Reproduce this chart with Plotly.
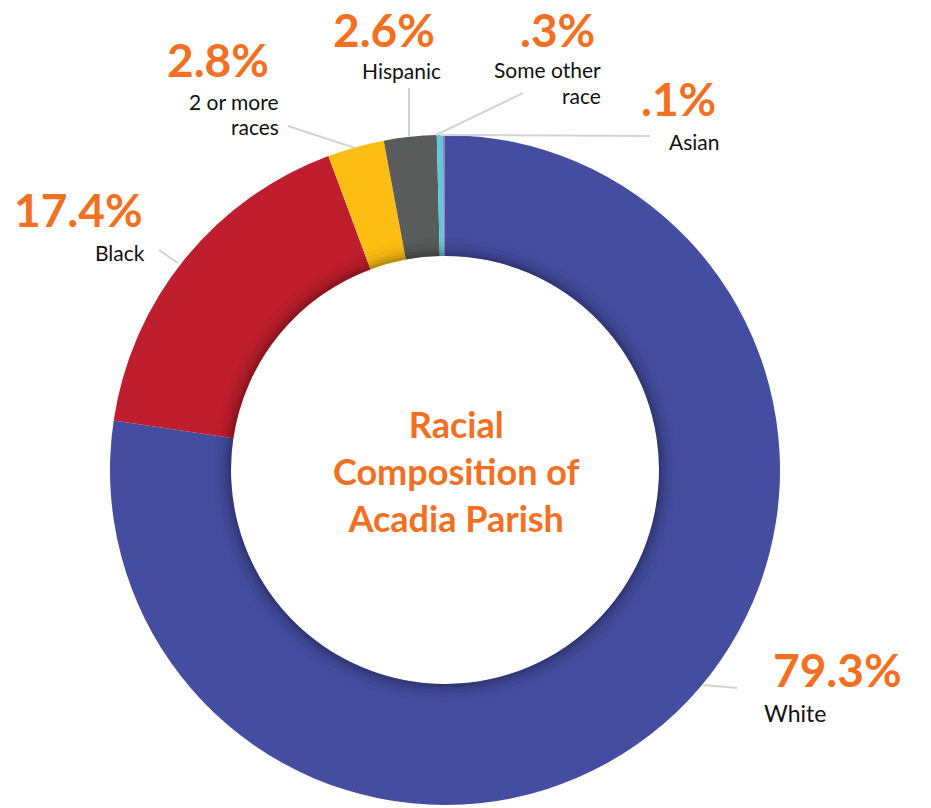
import plotly.graph_objects as go

# Racial composition of Acadia Parish (percent of population)
categories = ["White", "Black", "2 or more races", "Hispanic", "Some other race", "Asian"]
values = [79.3, 17.4, 2.8, 2.6, 0.3, 0.1]
value_labels = ["79.3%", "17.4%", "2.8%", "2.6%", ".3%", ".1%"]
name_labels = [["White"], ["Black"], ["2 or more", "races"], ["Hispanic"],
               ["Some other", "race"], ["Asian"]]
colors = ["#454DA0", "#BE1E2D", "#FDBE13", "#5A5C5B", "#5EC8DD", "#9A7EBA"]

W, H = 931, 808
CX, CY, R_OUT, R_IN = 445, 470, 335, 214
ORANGE = "#F36F21"
FONT = "Lato"


def px(x):
    return x / W


def py(y):
    return 1 - y / H


def ring_domain(r):
    return dict(x=[px(CX - r), px(CX + r)], y=[py(CY + r), py(CY - r)])


fig = go.Figure()

fig.add_trace(go.Pie(
    labels=categories,
    values=values,
    marker=dict(colors=colors, line=dict(width=0)),
    hole=R_IN / R_OUT,
    sort=False,
    direction="clockwise",
    rotation=0,
    textinfo="none",
    hoverinfo="skip",
    showlegend=False,
    domain=ring_domain(R_OUT),
))

# soft shadow along the inner edge of the ring
for d, a in [(3, 0.10), (6, 0.07), (9, 0.05), (13, 0.035), (18, 0.02)]:
    r = R_IN + d
    fig.add_trace(go.Pie(
        values=[1],
        marker=dict(colors=[f"rgba(0,0,0,{a})"], line=dict(width=0)),
        hole=R_IN / r,
        sort=False,
        textinfo="none",
        hoverinfo="skip",
        showlegend=False,
        domain=ring_domain(r),
    ))

# leader lines from slices to labels
leaders = [
    ((703, 685), (737, 688)),   # White
    ((178, 263), (159, 250)),   # Black
    ((355, 148), (288, 126)),   # 2 or more races
    ((409, 136), (409, 88)),    # Hispanic
    ((436, 135), (523, 93)),    # Some other race
    ((441, 135), (650, 136)),   # Asian
]
for (x0, y0), (x1, y1) in leaders:
    fig.add_shape(type="line", xref="paper", yref="paper",
                  x0=px(x0), y0=py(y0), x1=px(x1), y1=py(y1),
                  line=dict(color="#D3D3D3", width=2))

# label placement: (pct x, pct y, name x, first name line y, name anchor)
placements = [
    (837, 669, 762, 713, "left"),
    (78, 209, 147, 252, "right"),
    (218, 60, 281, 101, "right"),
    (384, 29, 401, 71, "center"),
    (557, 29, 603, 70, "right"),
    (678, 98, 694, 141, "center"),
]
LINE_STEP = 25.5
for i, (vx, vy, nx, ny, na) in enumerate(placements):
    fig.add_annotation(x=px(vx), y=py(vy), xref="paper", yref="paper",
                       text=f"<b>{value_labels[i]}</b>", showarrow=False,
                       xanchor="center", yanchor="middle",
                       font=dict(family=FONT, size=46, color=ORANGE))
    for k, line in enumerate(name_labels[i]):
        fig.add_annotation(x=px(nx), y=py(ny + LINE_STEP * k), xref="paper", yref="paper",
                           text=line, showarrow=False,
                           xanchor=na, yanchor="middle",
                           font=dict(family=FONT, size=21 if i else 23, color="#111111"))

fig.add_annotation(x=px(CX + 11), y=py(471), xref="paper", yref="paper",
                   text="<b>Racial<br>Composition of<br>Acadia Parish</b>",
                   showarrow=False, xanchor="center", yanchor="middle",
                   font=dict(family=FONT, size=36, color=ORANGE))

fig.update_layout(
    width=W, height=H,
    margin=dict(l=0, r=0, t=0, b=0),
    paper_bgcolor="white",
    plot_bgcolor="white",
)

fig.write_html("out.html")
